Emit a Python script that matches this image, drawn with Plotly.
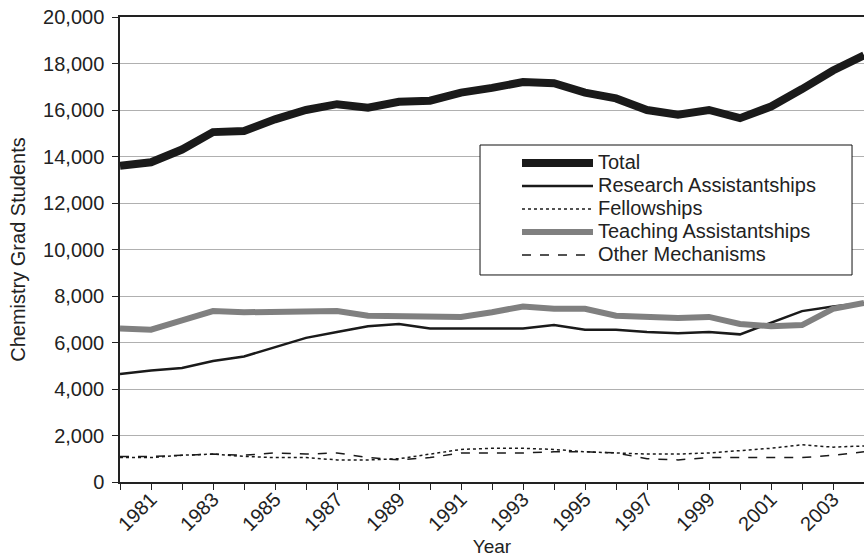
import plotly.graph_objects as go

years = list(range(1980, 2005))
total = [13600, 13750, 14300, 15050, 15100, 15600, 16000, 16250, 16100, 16350, 16400,
         16750, 16950, 17200, 17150, 16750, 16500, 16000, 15800, 16000, 15650, 16150,
         16900, 17700, 18350]
research = [4650, 4800, 4900, 5200, 5400, 5800, 6200, 6450, 6700, 6800, 6600, 6600,
            6600, 6600, 6750, 6550, 6550, 6450, 6400, 6450, 6350, 6850, 7350, 7550, 7700]
fellowships = [1050, 1050, 1150, 1200, 1100, 1050, 1050, 950, 950, 1000, 1200, 1400,
               1450, 1450, 1400, 1300, 1250, 1200, 1200, 1250, 1350, 1450, 1600, 1500, 1550]
teaching = [6600, 6550, 6950, 7350, 7300, 7300, 7300, 7350, 7150, 7150, 7150, 7100,
            7300, 7550, 7450, 7450, 7150, 7100, 7050, 7100, 6800, 6700, 6750, 7450, 7700]
other = [1100, 1100, 1150, 1200, 1150, 1250, 1200, 1250, 1050, 950, 1050, 1250, 1250,
         1250, 1300, 1300, 1250, 1000, 950, 1050, 1050, 1050, 1050, 1150, 1300]

series_names = ["Total", "Research Assistantships", "Fellowships",
                "Teaching Assistantships", "Other Mechanisms"]

tick_years = years
tick_text = [str(y) if y % 2 == 1 else "" for y in years]
y_ticks = list(range(0, 20001, 2000))

font_family = "Liberation Sans, Arial, sans-serif"
txt = "#222222"


def legend_label(name):
    # larger glyphs with the tight line spacing of the original legend
    return "<span style='font-size:20px'>" + name + "</span>"


styles = [
    dict(color="#1a1a1a", width=8),
    dict(color="#1a1a1a", width=2.5),
    dict(color="#1a1a1a", width=1.5, dash="dot"),
    dict(color="#808080", width=6),
    dict(color="#1a1a1a", width=1.5, dash="dash"),
]
values = [total, research, fellowships, teaching, other]

fig = go.Figure()
for name, vals, st in zip(series_names, values, styles):
    fig.add_trace(go.Scatter(x=years, y=vals, name=legend_label(name), mode="lines",
                             line=st, hovertemplate=name + " %{x}: %{y:,}<extra></extra>"))

# legend frame (layout shape so the box can be wider than the entries)
fig.add_shape(type="rect", xref="paper", yref="paper",
              x0=0.4839, x1=0.9839, y0=0.4452, y1=0.7247,
              line=dict(color="#111111", width=1), fillcolor="white", layer="above")

fig.update_layout(
    width=864, height=559,
    margin=dict(l=120, r=0, t=17, b=77),
    paper_bgcolor="white", plot_bgcolor="white",
    font=dict(family=font_family, size=20, color=txt),
    showlegend=True,
    legend=dict(x=0.5336, y=0.7215, xanchor="left", yanchor="top",
                borderwidth=0, bgcolor="rgba(0,0,0,0)",
                font=dict(size=15.4, color=txt), itemwidth=71,
                tracegroupgap=0),
    xaxis=dict(range=[1980, 2004], tickvals=tick_years, ticktext=tick_text,
               tickangle=-45, ticks="outside", ticklen=6, tickcolor="#222",
               showline=True, linecolor="#222", linewidth=1.5, mirror=True,
               showgrid=False, zeroline=False, automargin=False,
               ticklabelstandoff=-10,
               title=dict(text="Year", font=dict(size=19), standoff=6),
               tickfont=dict(size=20)),
    yaxis=dict(range=[0, 20000], tickvals=y_ticks, tickformat=",d",
               ticks="outside", ticklen=6, tickcolor="#222",
               showline=True, linecolor="#222", linewidth=1.5,
               showgrid=True, gridcolor="#b0b0b0", gridwidth=1, zeroline=False,
               automargin=False, ticklabelstandoff=4,
               title=dict(text="Chemistry Grad Students", font=dict(size=20), standoff=12),
               tickfont=dict(size=20)),
)

fig.write_html(
    "out.html",
    config={"displayModeBar": False},
    post_script="document.body.style.margin='0';document.body.style.overflow='hidden';",
)
